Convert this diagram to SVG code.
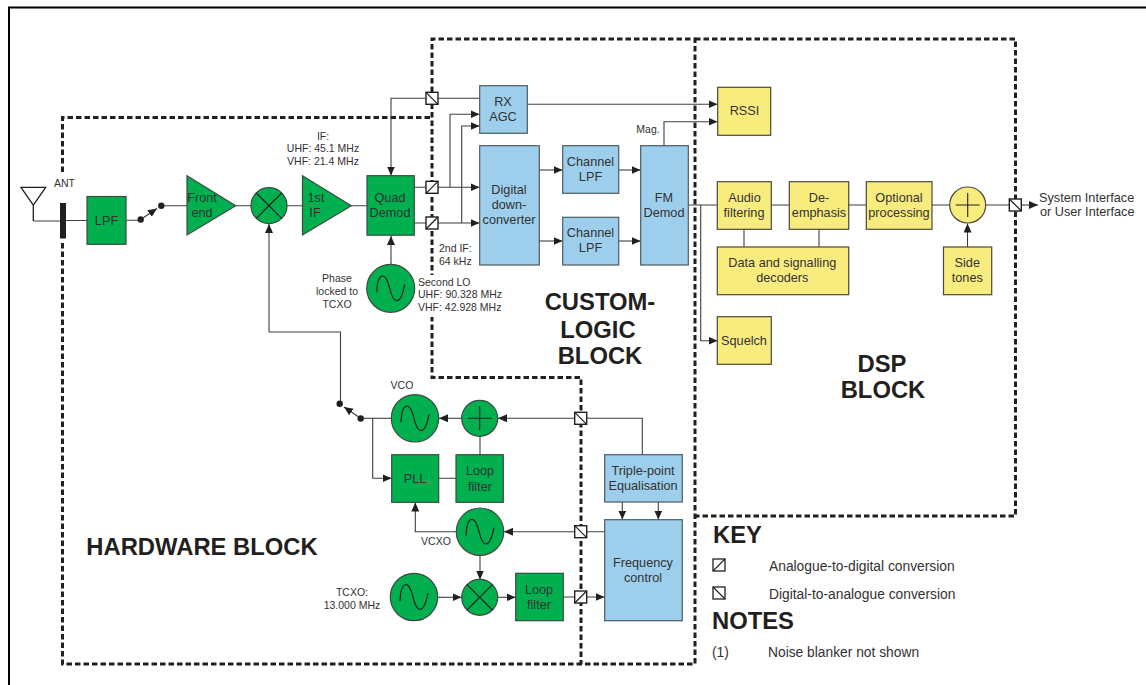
<svg xmlns="http://www.w3.org/2000/svg" width="1146" height="685" viewBox="0 0 1146 685">
<defs>
<marker id="a" markerUnits="userSpaceOnUse" markerWidth="10" markerHeight="10" refX="9" refY="4" orient="auto"><path d="M0 0L9 4L0 8z" fill="#231f20"/></marker>
<g id="ad"><rect x="-6" y="-6" width="12" height="12" fill="#fff" stroke="#231f20" stroke-width="1.4"/><path d="M-6 6L6 -6" stroke="#231f20" stroke-width="1.2"/></g>
<g id="da"><rect x="-6" y="-6" width="12" height="12" fill="#fff" stroke="#231f20" stroke-width="1.4"/><path d="M-6 -6L6 6" stroke="#231f20" stroke-width="1.2"/></g>
<path id="sine" d="M-14 4C-13 -17 -5 -17 -1 0S10 17 14 -4" fill="none" stroke="#231f20" stroke-width="1.2"/>
</defs>
<style>
text{font-family:"Liberation Sans",Arial,sans-serif;fill:#333132;text-anchor:middle}
.n{font-size:12.7px}.s{font-size:10.5px}.h{font-size:23.800px;font-weight:700;fill:#231f20}.k{font-size:13.800px;text-anchor:start}
.g{fill:#00b04f;stroke:#3c4a40;stroke-width:1.2}.b{fill:#9dcfec;stroke:#4a5a66;stroke-width:1.2}.y{fill:#f9ec7f;stroke:#4a4a3a;stroke-width:1.2}
.d{fill:none;stroke:#231f20;stroke-width:3;stroke-dasharray:5.500 3}
.c{fill:none;stroke:#3f3f3f;stroke-width:1.1}.m{marker-end:url(#a)}
.x{stroke:#231f20;stroke-width:1.1;fill:none}
</style>
<rect width="1146" height="685" fill="#fff"/>
<path d="M9 685V7.500H1146" fill="none" stroke="#000" stroke-width="2"/>
<g id="blocks">
<path class="d" d="M62.500 172V117.500H432"/><path class="d" d="M62.500 243V664H695V39H432V377.500H581V664"/>
<path class="d" d="M695 39H1015.500V516H696"/>
<rect x="428" y="275" width="8" height="42" fill="#fff"/>
</g>
<g id="connectors">
<path class="c" d="M33.300 221H60M66 220.500H87M126 220.300H140M161 205.700H187M236 205.700H251M287 205.700H303M351 205.700H367"/>
<path class="c m" d="M269 332V224"/>
<path class="c m" d="M480 98.300H391V175.500"/>
<path class="c m" d="M391 264V236"/>
<path class="c m" d="M414 187.300H479.500"/>
<path class="c m" d="M414 223H479.500"/>
<path class="c m" d="M450 187.300V114.300H479.500"/>
<path class="c m" d="M461.700 223V126H479.500"/>
<path class="c m" d="M527 104.300H717.500"/>
<path class="c m" d="M664 146V121.700H717.500"/>
<path class="c m" d="M539 170H562.500"/><path class="c m" d="M539 241H562.500"/>
<path class="c m" d="M618 170H640.500"/><path class="c m" d="M618 241H640.500"/>
<path class="c" d="M688 205H717M771 205H789M848 205H866M932 205H949M985 205H1015"/>
<path class="c m" d="M1015 205H1038"/>
<path class="c" d="M744 229V247M819 229V247"/>
<path class="c m" d="M967.500 247V223.500"/>
<path class="c m" d="M700.700 205V340.700H717.500"/>
<path class="c" d="M269 332H340.500V404"/>
<path class="c" d="M361 418.300H391"/>
<path class="c m" d="M462 418.300H439"/>
<path class="c m" d="M642.300 454.500V418.300H498"/>
<path class="c" d="M480 436V454.500M438.500 478.300H456"/>
<path class="c m" d="M372.700 418.300V478.300H391.500"/>
<path class="c m" d="M456 531.700H415.300V502.500"/>
<path class="c m" d="M604.500 531.700H504"/>
<path class="c m" d="M622.300 502V519.500"/><path class="c m" d="M658.300 502V519.500"/>
<path class="c m" d="M480 556V579.500"/>
<path class="c m" d="M438 597.300H461.500"/>
<path class="c m" d="M497.700 597.300H515.500"/>
<path class="c m" d="M563 597H604.500"/>
</g>
<g id="switches" fill="#231f20">
<circle cx="140.700" cy="219.500" r="3.200"/><circle cx="161.300" cy="205.700" r="3.200"/><path class="c m" d="M143 218L157 208.500"/>
<circle cx="339.700" cy="403.700" r="3.200"/><circle cx="360.700" cy="418.500" r="3.200"/><path class="c m" d="M358 416.500L344 407"/>
</g>
<g id="ant"><path d="M21 187.300H45.700L33.300 205zM33.300 205V221" fill="none" stroke="#231f20" stroke-width="1.3"/><rect x="60" y="203" width="6" height="35.500" fill="#231f20"/><text class="s" x="64.500" y="187">ANT</text></g>
<g id="lpf"><rect class="g" x="87" y="196.500" width="39" height="47.800"/><text class="n" x="106.500" y="225">LPF</text></g>
<g id="frontend"><path class="g" d="M187 175.700L235.700 205.700L187 235z"/><text class="n" x="202" y="202">Front</text><text class="n" x="202" y="217">end</text></g>
<g id="mixer1"><circle class="g" cx="269" cy="205.700" r="18"/><path class="x" d="M256.300 193L281.700 218.400M256.300 218.400L281.700 193"/></g>
<g id="if1"><path class="g" d="M302.500 175.700L351.300 205.700L302.500 235z"/><text class="n" x="316" y="202">1st</text><text class="n" x="315" y="217">IF</text></g>
<g id="quad"><rect class="g" x="367" y="175.700" width="47.300" height="59.500"/><text class="n" x="390" y="202">Quad</text><text class="n" x="390" y="217">Demod</text></g>
<g id="lo2"><circle class="g" cx="390.700" cy="288.300" r="24"/><use href="#sine" x="390.700" y="288.300"/></g>
<g id="conv1"><use href="#da" x="432" y="98.300"/><use href="#ad" x="432" y="187.300"/><use href="#ad" x="432" y="223"/><use href="#da" x="1015.300" y="205"/><use href="#da" x="580.700" y="418.300"/><use href="#da" x="580.700" y="531.700"/><use href="#ad" x="580.700" y="597"/></g>
<g id="rxagc"><rect class="b" x="479.700" y="85.700" width="47.600" height="47.600"/><text class="n" x="503" y="106">RX</text><text class="n" x="503" y="121">AGC</text></g>
<g id="ddc"><rect class="b" x="479.700" y="145.700" width="59.600" height="119.300"/><text class="n" x="509" y="194">Digital</text><text class="n" x="509" y="209">down-</text><text class="n" x="509" y="224">converter</text></g>
<g id="ch1"><rect class="b" x="562.700" y="145.700" width="56" height="47.600"/><text class="n" x="590.500" y="166">Channel</text><text class="n" x="590.500" y="181">LPF</text></g>
<g id="ch2"><rect class="b" x="562.700" y="217.300" width="56" height="47.700"/><text class="n" x="590.500" y="237">Channel</text><text class="n" x="590.500" y="252">LPF</text></g>
<g id="fm"><rect class="b" x="640.700" y="145.700" width="47.600" height="119.300"/><text class="n" x="664" y="202">FM</text><text class="n" x="664" y="217">Demod</text></g>
<g id="rssi"><rect class="y" x="717.700" y="87.300" width="53" height="48"/><text class="n" x="744.500" y="115">RSSI</text></g>
<g id="audio"><rect class="y" x="717.300" y="181.700" width="54" height="47.600"/><text class="n" x="744.500" y="202">Audio</text><text class="n" x="744" y="217">filtering</text></g>
<g id="deemph"><rect class="y" x="789.300" y="181.700" width="59.400" height="47.600"/><text class="n" x="819" y="202">De-</text><text class="n" x="819" y="217">emphasis</text></g>
<g id="opt"><rect class="y" x="866.300" y="181.700" width="65.700" height="47.600"/><text class="n" x="899" y="202">Optional</text><text class="n" x="899" y="217">processing</text></g>
<g id="sum2"><circle class="y" cx="967.700" cy="205" r="18"/><path class="x" d="M955.700 205H979.700M967.700 193V217"/></g>
<g id="decoders"><rect class="y" x="717.300" y="247" width="131.400" height="47.700"/><text class="n" x="782.300" y="267">Data and signalling</text><text class="n" x="782.300" y="282">decoders</text></g>
<g id="side"><rect class="y" x="943.500" y="247" width="48.200" height="47.700"/><text class="n" x="967.300" y="267">Side</text><text class="n" x="967.300" y="282">tones</text></g>
<g id="squelch"><rect class="y" x="717.300" y="316.700" width="54" height="47.600"/><text class="n" x="744" y="345">Squelch</text></g>
<g id="vco"><circle class="g" cx="415" cy="418.300" r="23.700"/><use href="#sine" x="415" y="418.300"/></g>
<g id="sum1"><circle class="g" cx="479.700" cy="418.300" r="18"/><path class="x" d="M467.700 418.300H491.700M479.700 406.300V430.300"/></g>
<g id="pll"><rect class="g" x="391.700" y="454.700" width="47" height="47.600"/><text class="n" x="415" y="483">PLL</text></g>
<g id="lf1"><rect class="g" x="456" y="454.700" width="47.300" height="47.600"/><text class="n" x="480" y="475">Loop</text><text class="n" x="480" y="491">filter</text></g>
<g id="vcxo"><circle class="g" cx="480" cy="531.700" r="23.700"/><use href="#sine" x="480" y="531.700"/></g>
<g id="mixer2"><circle class="g" cx="479.700" cy="597.300" r="18"/><path class="x" d="M467 584.600L492.400 610M467 610L492.400 584.600"/></g>
<g id="tcxo"><circle class="g" cx="414" cy="597" r="23.700"/><use href="#sine" x="414" y="597"/></g>
<g id="lf2"><rect class="g" x="515.700" y="573.300" width="47.600" height="47.400"/><text class="n" x="539" y="594">Loop</text><text class="n" x="539" y="609">filter</text></g>
<g id="triple"><rect class="b" x="604.700" y="454.700" width="77.600" height="47.300"/><text class="n" x="643" y="475">Triple-point</text><text class="n" x="643" y="490">Equalisation</text></g>
<g id="freq"><rect class="b" x="604.700" y="519.700" width="77.600" height="101"/><text class="n" x="643" y="567">Frequency</text><text class="n" x="643" y="582">control</text></g>
<g id="labels">
<text class="s" x="323" y="140">IF:</text><text class="s" x="323" y="152">UHF: 45.1 MHz</text><text class="s" x="323" y="165">VHF: 21.4 MHz</text>
<text class="s" x="337" y="282">Phase</text><text class="s" x="337" y="295">locked to</text><text class="s" x="337" y="308">TCXO</text>
<text class="s" x="439" y="252" style="text-anchor:start">2nd IF:</text><text class="s" x="439" y="265" style="text-anchor:start">64 kHz</text>
<text class="s" x="418" y="286" style="text-anchor:start">Second LO</text><text class="s" x="418" y="298" style="text-anchor:start">UHF: 90.328 MHz</text><text class="s" x="418" y="311" style="text-anchor:start">VHF: 42.928 MHz</text>
<text class="s" x="648" y="133">Mag.</text>
<text class="s" x="402" y="389">VCO</text><text class="s" x="436" y="545">VCXO</text>
<text class="s" x="352" y="596">TCXO:</text><text class="s" x="352" y="609">13.000 MHz</text>
<text x="1039" y="202" style="text-anchor:start;font-size:12.7px">System Interface</text><text x="1040" y="216" style="text-anchor:start;font-size:12.7px">or User Interface</text>
<text class="h" x="600" y="310">CUSTOM-</text><text class="h" x="598" y="338">LOGIC</text><text class="h" x="600" y="364">BLOCK</text>
<text class="h" x="882" y="372">DSP</text><text class="h" x="883" y="398">BLOCK</text>
<text class="h" x="202" y="555">HARDWARE BLOCK</text>
</g>
<g id="key">
<text class="h" x="713" y="543" style="text-anchor:start">KEY</text>
<rect x="713" y="559" width="12" height="12" fill="#fff" stroke="#231f20" stroke-width="1.300"/><path class="x" d="M713 571L725 559"/>
<rect x="713" y="587" width="12" height="12" fill="#fff" stroke="#231f20" stroke-width="1.300"/><path class="x" d="M713 587L725 599"/>
<text class="k" x="769" y="571">Analogue-to-digital conversion</text>
<text class="k" x="769" y="599">Digital-to-analogue conversion</text>
<text class="h" x="712" y="629" style="text-anchor:start">NOTES</text>
<text class="k" x="712" y="657">(1)</text><text class="k" x="768" y="657">Noise blanker not shown</text>
</g>
</svg>
